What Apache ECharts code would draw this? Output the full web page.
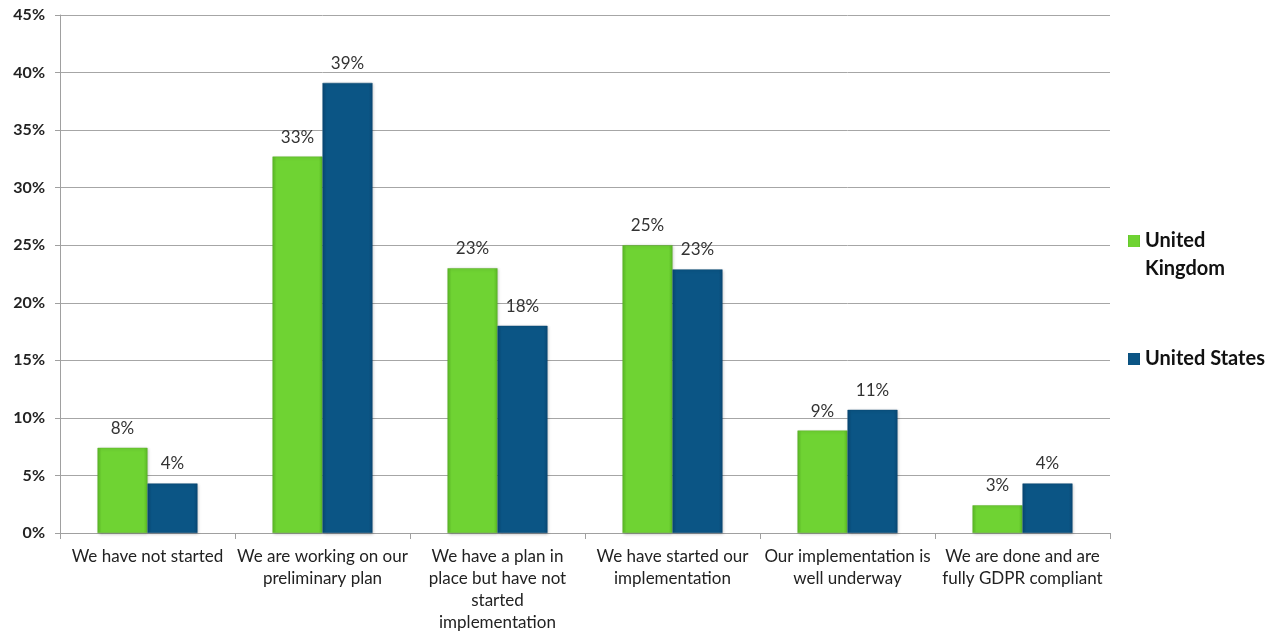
<!DOCTYPE html>
<html>
<head>
<meta charset="utf-8">
<script src="https://cdn.jsdelivr.net/npm/echarts@6/dist/echarts.min.js"></script>
<style>html,body{margin:0;padding:0;background:#fff}#c{width:1280px;height:637px}</style>
</head>
<body>
<div id="c"></div>
<script>
const categories = [
  'We have not started',
  'We are working on our\npreliminary plan',
  'We have a plan in\nplace but have not\nstarted\nimplementation',
  'We have started our\nimplementation',
  'Our implementation is\nwell underway',
  'We are done and are\nfully GDPR compliant'
];
const seriesNames = ['United Kingdom', 'United States'];
const ukValues = [7.4, 32.7, 23.0, 25.0, 8.9, 2.4];
const usValues = [4.3, 39.1, 18.0, 22.9, 10.7, 4.3];
const ukLabels = ['8%', '33%', '23%', '25%', '9%', '3%'];
const usLabels = ['4%', '39%', '18%', '23%', '11%', '4%'];
const yTicks = [0, 5, 10, 15, 20, 25, 30, 35, 40, 45];

const font = 'Lato, "Open Sans", sans-serif';

function hGrad(edge, mid) {
  return new echarts.graphic.LinearGradient(0, 0, 1, 0, [
    {offset: 0, color: edge},
    {offset: 0.08, color: mid},
    {offset: 0.92, color: mid},
    {offset: 1, color: edge}
  ]);
}

const chart = echarts.init(document.getElementById('c'));
chart.setOption({
  animation: false,
  backgroundColor: '#fff',
  grid: {left: 60, right: 170, top: 15, bottom: 104},
  legend: [{
    orient: 'vertical',
    left: 1128,
    top: 227,
    padding: 0,
    data: [seriesNames[0]],
    itemWidth: 12,
    itemHeight: 40,
    itemGap: 0,
    icon: 'path://M0,0L12,0L12,12L0,12Z M6,40L6,40',
    itemStyle: {borderWidth: 0},
    formatter: () => 'United\nKingdom',
    textStyle: {fontFamily: font, fontSize: 20, fontWeight: 'bold', color: '#111', lineHeight: 28}
  }, {
    orient: 'vertical',
    left: 1128,
    top: 349,
    padding: 0,
    data: [seriesNames[1]],
    itemWidth: 12,
    itemHeight: 12,
    icon: 'rect',
    itemStyle: {borderWidth: 0},
    textStyle: {fontFamily: font, fontSize: 20, fontWeight: 'bold', color: '#111'}
  }],
  xAxis: {
    type: 'category',
    data: categories,
    axisLine: {lineStyle: {color: '#a0a0a0', width: 1}},
    axisTick: {show: true, length: 6, lineStyle: {color: '#a0a0a0'}},
    axisLabel: {interval: 0, fontFamily: font, fontSize: 17, color: '#222', lineHeight: 22, margin: 13}
  },
  yAxis: {
    type: 'value',
    min: yTicks[0],
    max: yTicks[yTicks.length - 1],
    interval: 5,
    axisLine: {show: true, lineStyle: {color: '#a0a0a0'}},
    axisTick: {show: true, length: 5, lineStyle: {color: '#a0a0a0'}},
    splitLine: {lineStyle: {color: '#a6a6a6', width: 1}},
    axisLabel: {fontFamily: font, fontSize: 16, fontWeight: 'bold', color: '#222', margin: 15, formatter: v => v + '%'}
  },
  series: [{
    name: seriesNames[0],
    type: 'bar',
    data: ukValues,
    barWidth: 50,
    barGap: '0%',
    itemStyle: {
      color: hGrad('#5cbc26', '#6fd333'),
      borderColor: '#5fae2c',
      borderWidth: 0.5,
      shadowColor: 'rgba(0,0,0,0.25)',
      shadowBlur: 3,
      shadowOffsetX: 1,
      shadowOffsetY: 1
    },
    label: {show: true, position: 'top', distance: 11, fontFamily: font, fontSize: 17, color: '#333',
      formatter: p => ukLabels[p.dataIndex]}
  }, {
    name: seriesNames[1],
    type: 'bar',
    data: usValues,
    barWidth: 50,
    barGap: '0%',
    itemStyle: {
      color: hGrad('#0a4a76', '#0b5585'),
      borderColor: '#0a4670',
      borderWidth: 0.5,
      shadowColor: 'rgba(0,0,0,0.25)',
      shadowBlur: 3,
      shadowOffsetX: 1,
      shadowOffsetY: 1
    },
    label: {show: true, position: 'top', distance: 11, fontFamily: font, fontSize: 17, color: '#333',
      formatter: p => usLabels[p.dataIndex]}
  }]
});
</script>
</body>
</html>
